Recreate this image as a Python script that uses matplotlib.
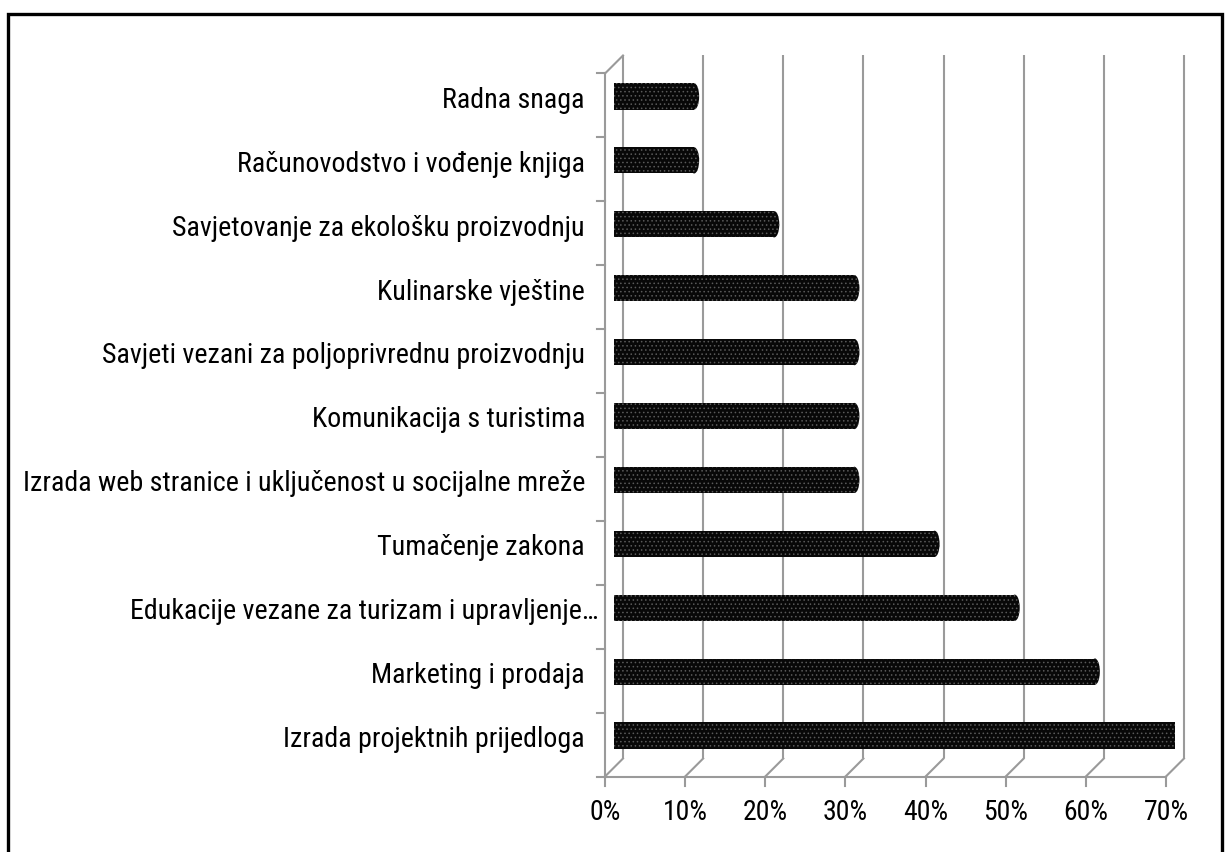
import matplotlib
matplotlib.use('Agg')
import matplotlib.pyplot as plt
from matplotlib.patches import Ellipse, Rectangle
from matplotlib import font_manager

categories = [
    "Radna snaga",
    "Računovodstvo i vođenje knjiga",
    "Savjetovanje za ekološku proizvodnju",
    "Kulinarske vještine",
    "Savjeti vezani za poljoprivrednu proizvodnju",
    "Komunikacija s turistima",
    "Izrada web stranice i uključenost u socijalne mreže",
    "Tumačenje zakona",
    "Edukacije vezane za turizam i upravljenje…",
    "Marketing i prodaja",
    "Izrada projektnih prijedloga",
]
values = [0.10, 0.10, 0.20, 0.30, 0.30, 0.30, 0.30, 0.40, 0.50, 0.60, 0.70]
xticks = [0.0, 0.1, 0.2, 0.3, 0.4, 0.5, 0.6, 0.7]
xtick_labels = ["0%", "10%", "20%", "30%", "40%", "50%", "60%", "70%"]

names = {f.name for f in font_manager.fontManager.ttflist}
if "Roboto Condensed" in names:
    FONT = ["Roboto Condensed", "DejaVu Sans"]
    cat_size, tick_size = 20.2, 20
else:
    FONT = ["Liberation Sans", "DejaVu Sans"]
    cat_size, tick_size = 18, 17.5
plt.rcParams['font.family'] = FONT
plt.rcParams['hatch.linewidth'] = 0.6

W, H, DPI = 1230, 852, 100
fig = plt.figure(figsize=(W / DPI, H / DPI), dpi=DPI)

# mid-depth plane of the pseudo-3D plot, in pixels (top-origin)
L, R, T, B = 614, 1175, 64.5, 767.5
ax = fig.add_axes([L / W, 1 - B / H, (R - L) / W, (B - T) / H])
XMAX = 0.70
n = len(categories)
ax.set_xlim(0, XMAX)
ax.set_ylim(n - 0.5, -0.5)
ax.axis('off')

dpx = XMAX / (R - L)        # data x per pixel
dpy = n / (B - T)           # data y per pixel
OX, OY = 9 * dpx, 9 * dpy   # half-depth offset (back = +x, up)

grid_c = '#9a9a9a'
glw = 1.5

def back(x, y):
    return x + OX, y - OY

def front(x, y):
    return x - OX, y + OY

top, bot = -0.5, n - 0.5

# back wall gridlines
for xt in xticks:
    x0, y0 = back(xt, top)
    x1, y1 = back(xt, bot)
    ax.plot([x0, x1], [y0, y1], color=grid_c, lw=glw, clip_on=False, zorder=1,
            solid_capstyle='butt')

# floor: front line, diagonals, ticks
fx0, fy = front(0, bot)
fx1, _ = front(xticks[-1], bot)
ax.plot([fx0, fx1], [fy, fy], color=grid_c, lw=glw, clip_on=False, zorder=1)
for xt in xticks:
    a = front(xt, bot)
    b = back(xt, bot)
    ax.plot([a[0], b[0]], [a[1], b[1]], color=grid_c, lw=glw, clip_on=False, zorder=1)
    ax.plot([a[0], a[0]], [a[1], a[1] + 9 * dpy], color=grid_c, lw=glw,
            clip_on=False, zorder=1)

# left wall: front edge, ticks, top diagonal
a = front(0, top)
b = front(0, bot)
ax.plot([a[0], b[0]], [a[1], b[1]], color=grid_c, lw=glw, clip_on=False, zorder=1)
for k in range(n + 1):
    y = front(0, k - 0.5)[1]
    ax.plot([a[0] - 8 * dpx, a[0]], [y, y], color=grid_c, lw=glw, clip_on=False, zorder=1)
c = back(0, top)
ax.plot([a[0], c[0]], [a[1], c[1]], color=grid_c, lw=glw, clip_on=False, zorder=1)

# cylinder-like bars
bh = 0.41
fc = '#080808'
hc = '#5a5a5a'
cap = 10 * dpx
for i, v in enumerate(values):
    ax.barh(i, v, height=bh, left=0, color=fc, edgecolor=hc, hatch='....',
            linewidth=0, zorder=3)
    for xc in (-2 * dpx, v):
        e = Ellipse((xc, i), width=cap, height=bh, facecolor=fc, edgecolor=hc,
                    hatch='....', linewidth=0, zorder=3)
        ax.add_patch(e)

# category labels
for i, lab in enumerate(categories):
    xpx = 585 if not lab.endswith('…') else 598
    ax.text((xpx - L) * dpx, i + 0.06, lab, ha='right', va='center',
            fontsize=cat_size, color='black', clip_on=False)

# x tick labels
ylab = -0.5 + (813 - T) * dpy
for xt, lab in zip(xticks, xtick_labels):
    ax.text(front(xt, bot)[0], ylab, lab, ha='center', va='center',
            fontsize=tick_size, color='black', clip_on=False)

# outer frame
fig.patches.append(Rectangle((7.5 / W, -0.05), (1222 - 7.5) / W, 1.05 - 13.5 / H,
                             transform=fig.transFigure, fill=False,
                             edgecolor='black', linewidth=2.4))

fig.savefig('out.png', dpi=DPI)
